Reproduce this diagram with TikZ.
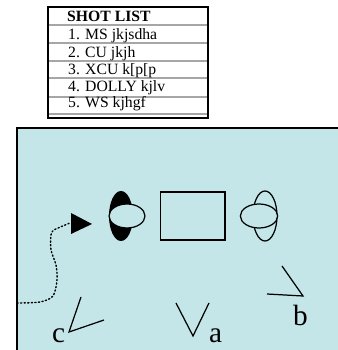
\documentclass[tikz,border=0pt]{standalone}
\usepackage{fontspec}
\setmainfont{Liberation Serif}
\definecolor{panelblue}{HTML}{C5E6E8}
\tikzset{
  rowtext/.style={anchor=base west,inner sep=0pt,font=\fontsize{13.4}{14}\selectfont},
  bigletter/.style={anchor=base west,inner sep=0pt,font=\fontsize{25}{26}\selectfont},
  rowline/.style={gray!70,line width=1.1pt},
  outline/.style={line width=1.7pt},
  figure/.style={line width=1.05pt}
}
\begin{document}
\begin{tikzpicture}
  \useasboundingbox (0,0) rectangle (10.14,10.5);

  % Lista de planos
  \draw[rowline] (1.44,9.75) -- (6.24,9.75);
  \draw[rowline] (1.44,9.21) -- (6.24,9.21);
  \draw[rowline] (1.44,8.67) -- (6.24,8.67);
  \draw[rowline] (1.44,8.16) -- (6.24,8.16);
  \draw[rowline] (1.44,7.59) -- (6.24,7.59);
  \draw[rowline] (1.44,7.08) -- (6.24,7.08);
  \draw[outline] (1.44,6.96) rectangle (6.24,10.29);
  \node[rowtext,font=\fontsize{13.4}{14}\selectfont\bfseries] (title) at (2.01,9.85) {SHOT LIST};
  \node[rowtext] (shot1) at (2.04,9.30) {1. MS jkjsdha};
  \node[rowtext] (shot2) at (2.04,8.76) {2. CU jkjh};
  \node[rowtext] (shot3) at (2.04,8.25) {3. XCU k[p[p};
  \node[rowtext] (shot4) at (2.04,7.74) {4. DOLLY kjlv};
  \node[rowtext] (shot5) at (2.04,7.26) {5. WS kjhgf};

  % Fondo
  \fill[panelblue] (0.51,0) rectangle (10.14,6.66);
  \draw[outline] (0.51,0) -- (0.51,6.66) -- (10.14,6.66);

  % Actor izquierdo
  \fill[black] (3.63,4.02) ellipse (0.36 and 0.75);
  \draw[figure,fill=panelblue] (3.81,4.02) ellipse (0.54 and 0.36);

  % Mesa
  \draw[figure] (4.82,3.30) rectangle (6.75,4.74);

  % Actor derecho
  \draw[figure] (7.95,4.02) ellipse (0.36 and 0.75);
  \draw[figure,fill=panelblue] (7.77,4.02) ellipse (0.56 and 0.36);

  % Recorrido de la camara
  \draw[figure,dotted,line width=1.2pt,line cap=round] plot[smooth] coordinates {(0.51,1.41) (1.2,1.44) (1.59,1.62) (1.71,2.1) (1.68,2.55) (1.53,3.0) (1.53,3.45) (1.62,3.6) (2.1,3.81)};
  \fill[black] (2.13,4.11) -- (2.76,3.78) -- (2.13,3.48) -- cycle;

  % Camaras
  \draw[figure] (5.28,1.41) -- (5.79,0.42) -- (6.27,1.41);
  \draw[figure] (8.46,2.52) -- (9.09,1.62) -- (8.01,1.68);
  \draw[figure] (2.43,1.59) -- (2.07,0.54) -- (3.12,0.90);
  \node[bigletter] (cama) at (6.27,0.24) {a};
  \node[bigletter] (camb) at (8.79,0.75) {b};
  \node[bigletter] (camc) at (1.56,0.24) {c};
\end{tikzpicture}
\end{document}
